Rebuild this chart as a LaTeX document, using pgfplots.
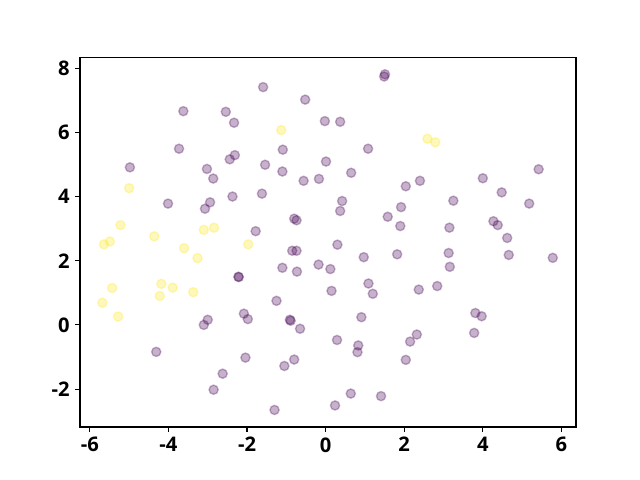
\documentclass[border=0pt]{standalone}
\usepackage{pgfplots}
\pgfplotsset{compat=1.18}
\usepackage{fontspec}
\setmainfont{Open Sans}
\definecolor{vpurple}{HTML}{440154}
\definecolor{vyellow}{HTML}{FDE725}
\begin{document}
\begin{tikzpicture}
\begin{axis}[
  scale only axis, width=357.1pt, height=265.7pt,
  xmin=-6.25, xmax=6.37, ymin=-3.18, ymax=8.32,
  xtick={-6,-4,-2,0,2,4,6}, ytick={-2,0,2,4,6,8},
  tick align=outside, xtick pos=left, ytick pos=left,
  major tick length=3.5pt,
  every tick/.style={black, line width=0.8pt},
  axis line style={line width=0.8pt},
  /pgf/number format/assume math mode=true,
  ticklabel style={font=\bfseries\fontsize{14.5}{16}\selectfont},
  xticklabel style={yshift=-0.5pt},
  yticklabel style={xshift=-0.5pt},
  clip=false,
]
\addplot[only marks, mark=*, mark size=3.3pt, mark options={draw=vpurple, fill=vpurple, line width=1pt, opacity=0.3}] coordinates {
(-3.62,6.66) (-2.54,6.64) (-2.33,6.30) (-3.73,5.49) (-4.98,4.91) (-2.31,5.29) (-2.44,5.16)
(-3.02,4.86) (-2.86,4.56) (-2.37,4.00) (-4.01,3.78) (-2.94,3.82) (-3.07,3.62)
(-2.22,1.50) (-2.21,1.49) (-2.08,0.35) (-1.98,0.18) (-3.00,0.16) (-3.10,0.00)
(-4.31,-0.84) (-2.04,-1.02) (-2.62,-1.52) (-2.85,-2.02)
(1.51,7.81) (1.49,7.74) (-1.59,7.41) (-0.52,7.02) (-0.02,6.35) (0.37,6.33)
(-1.09,5.46) (1.08,5.49) (-1.54,4.99) (0.01,5.09) (-1.10,4.78) (-0.56,4.49)
(-0.17,4.55) (0.65,4.74) (2.04,4.32) (-1.62,4.09) (0.42,3.86) (0.37,3.55)
(1.92,3.67) (1.58,3.37) (1.90,3.08) (-0.80,3.31) (-0.74,3.26) (-1.78,2.92)
(0.30,2.50) (-0.85,2.31) (-0.74,2.31) (0.97,2.11) (1.82,2.20) (-1.10,1.78)
(-0.73,1.66) (-0.18,1.88) (0.12,1.74) (1.09,1.29) (1.20,0.97) (0.15,1.06)
(-1.25,0.75) (-0.91,0.16) (-0.89,0.13) (-0.65,-0.12) (0.91,0.24) (0.29,-0.47)
(0.83,-0.64) (0.81,-0.85) (2.15,-0.52) (2.04,-1.09) (-0.80,-1.08) (-1.05,-1.28)
(0.64,-2.14) (1.41,-2.22) (0.24,-2.51) (-1.30,-2.65)
(2.40,4.49) (4.00,4.57) (4.48,4.13) (5.18,3.78) (5.42,4.85) (3.25,3.87)
(3.15,3.03) (4.27,3.23) (4.38,3.11) (4.62,2.71) (3.13,2.24) (4.66,2.18)
(5.78,2.09) (3.16,1.81) (2.84,1.21) (2.37,1.10) (3.81,0.37) (3.97,0.27)
(3.78,-0.25) (2.32,-0.30)
};
\addplot[only marks, mark=*, mark size=3.3pt, mark options={draw=vyellow, fill=vyellow, line width=1pt, opacity=0.3}] coordinates {
(-5.00,4.26) (-5.22,3.11) (-4.36,2.76) (-3.10,2.96) (-2.84,3.03) (-5.49,2.60)
(-5.64,2.51) (-3.60,2.39) (-1.97,2.51) (-3.26,2.08) (-5.43,1.15) (-5.68,0.69)
(-5.28,0.26) (-4.18,1.28) (-3.89,1.16) (-4.22,0.90) (-3.37,1.02) (-1.13,6.07)
(2.59,5.80) (2.79,5.69)
};
\end{axis}
\path (current axis.south west) ++(-57.6pt,-38.2pt) rectangle ++(460.8pt,345.6pt);
\end{tikzpicture}
\end{document}
